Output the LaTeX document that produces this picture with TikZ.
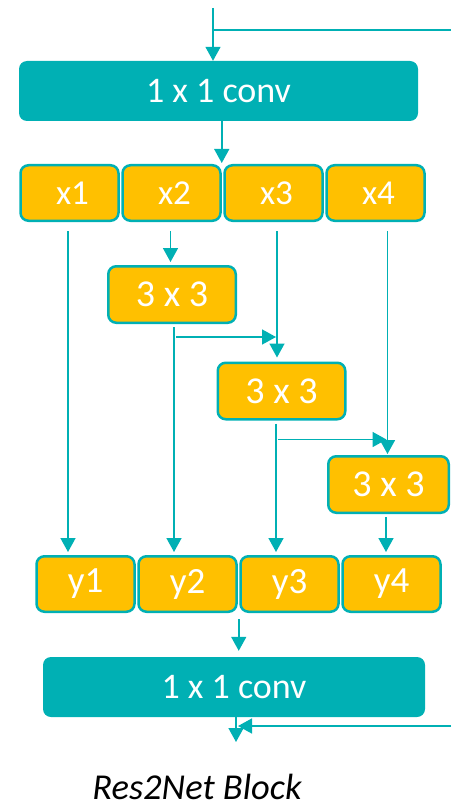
\documentclass[tikz,border=0pt]{standalone}
\usepackage{fontspec}
\setmainfont{Carlito}
\usetikzlibrary{arrows.meta,positioning,calc}
\definecolor{resteal}{HTML}{00B0B4}
\definecolor{resgold}{HTML}{FFC000}

\begin{document}
\begin{tikzpicture}[
    x=1pt, y=-1pt,
    >={Triangle[length=14pt,width=15pt]},
    conv/.style={fill=resteal, rounded corners=8pt, minimum height=60pt, inner sep=0pt, text=white, font=\fontsize{36}{40}\selectfont},
    part/.style={draw=resteal, line width=2.5pt, fill=resgold, rounded corners=8pt, minimum width=98pt, minimum height=55.5pt, inner sep=0pt, text=white},
    split/.style={part, minimum width=127.5pt, minimum height=56.5pt, font=\fontsize{38}{42}\selectfont},
    line/.style={draw=resteal, line width=1.6pt},
    arr/.style={->, line, resteal}
]
    \useasboundingbox (0,0) rectangle (451,805);

    % 1x1 conv in, then the four splits
    \node[conv, minimum width=399pt] (conv1) at (218.5,91) {1 x 1 conv};
    \node[part, font=\fontsize{35}{38}\selectfont] (x1) at (69.5,193) {\hspace{6pt}x1};
    \node[part, font=\fontsize{35}{38}\selectfont, right=1.5pt of x1] (x2) {\hspace{6pt}x2};
    \node[part, font=\fontsize{35}{38}\selectfont, right=1.5pt of x2] (x3) {\hspace{6pt}x3};
    \node[part, font=\fontsize{35}{38}\selectfont, right=1.5pt of x3] (x4) {\hspace{6pt}x4};

    % 3x3 convs, stepped down to the right
    \node[split] (k1) at (172,294.5) {3 x 3};
    \node[split] (k2) at (281.5,391) {3 x 3};
    \node[split, minimum width=120.5pt] (k3) at (388.5,484.5) {3 x 3};

    % outputs and 1x1 conv out
    \node[part, font=\fontsize{37}{40}\selectfont] (y1) at (85.5,584) {y1};
    \node[part, font=\fontsize{37}{40}\selectfont, right=1.5pt of y1] (y2) {y2};
    \node[part, font=\fontsize{37}{40}\selectfont, right=1.5pt of y2] (y3) {y3};
    \node[part, font=\fontsize{37}{40}\selectfont, right=1.5pt of y3] (y4) {y4};
    \node[conv, minimum width=382pt] (conv2) at (234,687) {1 x 1 conv};

    \node[anchor=base, inner sep=0pt, font=\itshape\fontsize{36.5}{40}\selectfont] (cap) at (197,799) {Res2Net Block};

    % input and identity branch
    \coordinate (in) at (213,8);
    \coordinate (skip) at (451,30);
    \coordinate (out) at (236,742);
    \coordinate (res) at (451,726);
    \draw[arr] (in) -- (in |- conv1.north);
    \draw[line] (in |- skip) -- (skip);
    \draw[arr, shorten >=1pt] (conv1.south -| x2.north east) -- (x2.north east);

    % columns
    \coordinate (c3) at ([xshift=3.5pt]x3.south);
    \coordinate (c4) at ([xshift=12pt]x4.south);
    \coordinate (d1) at ([xshift=2pt]k1.south);
    \coordinate (d2) at ([xshift=-5.5pt]k2.south);
    \coordinate (d3) at ([xshift=-2.5pt]k3.south);
    \coordinate (h1) at ($(d1)+(2,13)$);
    \coordinate (h2) at ($(d2)+(2,19)$);
    \draw[arr, shorten >=3pt] ([xshift=-1.5pt,yshift=-9pt]x1.south) -- ([xshift=-1.5pt]x1.south |- y1.north);
    \draw[arr, shorten >=3pt] ([xshift=-1pt,yshift=-9pt]x2.south) -- ([xshift=-1pt]x2.south |- k1.north);
    \draw[arr, shorten >=4pt] ([yshift=-9pt]c3) -- (c3 |- k2.north);
    \draw[arr, shorten >=1pt] ([yshift=-9pt]c4) -- (c4 |- k3.north);

    \draw[arr, shorten >=3pt] ([yshift=-3pt]d1) -- (d1 |- y2.north);
    \draw[arr, shorten >=1pt] (h1) -- (h1 -| c3);
    \draw[arr, shorten >=3pt] ([yshift=-3pt]d2) -- (d2 |- y3.north);
    \draw[arr, shorten >=1pt] (h2) -- (h2 -| c4);
    \draw[arr, shorten >=3pt] ([yshift=-3pt]d3) -- (d3 |- y4.north);

    % merge and residual add
    \draw[arr, shorten >=6pt] ([xshift=1pt,yshift=-6pt]y2.south east) -- ([xshift=1pt]y2.south east |- conv2.north);
    \draw[arr] (conv2.south -| out) -- (out);
    \draw[arr, shorten >=2pt] (res) -- (res -| out);
\end{tikzpicture}
\end{document}
